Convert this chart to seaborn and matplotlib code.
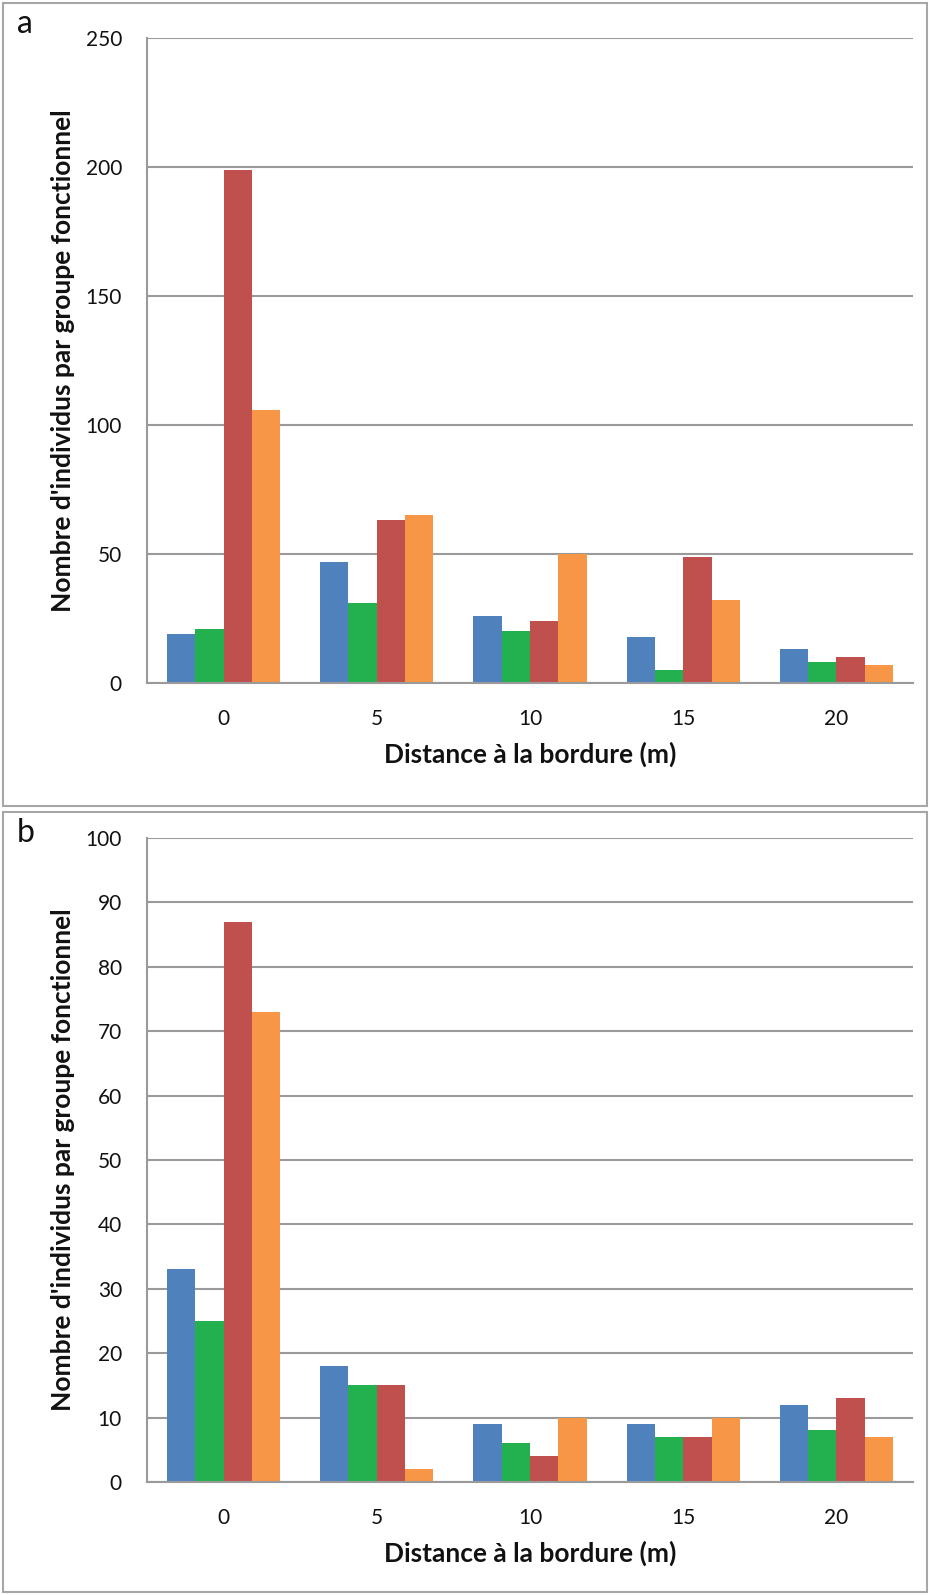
import pandas as pd
import seaborn as sns
import matplotlib.pyplot as plt
from matplotlib.patches import Rectangle

# values
distances = ["0", "5", "10", "15", "20"]
groups = ["g1", "g2", "g3", "g4"]
colors = ["#4F81BD", "#23B04E", "#C0504D", "#F79646"]

a_blue = [19, 47, 26, 18, 13]
a_green = [21, 31, 20, 5, 8]
a_red = [199, 63, 24, 49, 10]
a_orange = [106, 65, 50, 32, 7]

b_blue = [33, 18, 9, 9, 12]
b_green = [25, 15, 6, 7, 8]
b_red = [87, 15, 4, 7, 13]
b_orange = [73, 2, 10, 10, 7]


def to_long(series):
    rows = []
    for g, vals in zip(groups, series):
        for d, v in zip(distances, vals):
            rows.append({"Distance": d, "Groupe": g, "Valeur": v})
    return pd.DataFrame(rows)


df_a = to_long([a_blue, a_green, a_red, a_orange])
df_b = to_long([b_blue, b_green, b_red, b_orange])

sns.set_style("white")
plt.rcParams["font.family"] = ["Lato", "DejaVu Sans"]

W, H = 930, 1595
fig = plt.figure(figsize=(W / 100, H / 100), dpi=100)
grey = "#9a9a9a"


def px(x0, y0, x1, y1):
    # pixel box -> figure fraction [left, bottom, width, height]
    return [x0 / W, 1 - y1 / H, (x1 - x0) / W, (y1 - y0) / H]


def panel(df, box, axbox, ymax, step, letter):
    fig.add_artist(Rectangle((box[0], box[1]), box[2], box[3], transform=fig.transFigure,
                             fill=False, edgecolor="#a6a6a6", linewidth=1.5))
    ax = fig.add_axes(axbox)
    sns.barplot(data=df, x="Distance", y="Valeur", hue="Groupe", palette=colors,
                width=0.74, saturation=1, edgecolor="none", legend=False, ax=ax)
    ax.set_xlim(-0.5, 4.5)
    ax.set_ylim(0, ymax)
    ax.set_yticks(range(0, ymax + 1, step))
    ax.yaxis.grid(True, color=grey, linewidth=1.5)
    ax.set_axisbelow(True)
    for s in ["top", "right"]:
        ax.spines[s].set_visible(False)
    for s in ["left", "bottom"]:
        ax.spines[s].set_color(grey)
        ax.spines[s].set_linewidth(1.5)
    ax.set_xticks([i - 0.5 for i in range(6)], minor=True)
    ax.tick_params(axis="x", which="major", length=0, pad=19, labelsize=15, labelcolor="#111111")
    ax.tick_params(axis="x", which="minor", length=8, width=1.5, color=grey, direction="out")
    ax.tick_params(axis="y", length=8, width=1.5, color=grey, direction="out", pad=10,
                   labelsize=15, labelcolor="#111111")
    ax.set_xlabel("Distance à la bordure (m)", fontsize=19, fontweight="bold", labelpad=9,
                  color="#111111")
    ax.set_ylabel("Nombre d'individus par groupe fonctionnel", fontsize=19,
                  fontweight="bold", labelpad=8, color="#111111")
    fig.text(box[0] + 14 / W, box[1] + box[3] - 6 / H, letter, fontsize=23,
             va="top", ha="left", color="#111111")
    return ax


panel(df_a, (3 / W, 1 - 806 / H, 924 / W, 803 / H), px(147, 38, 913, 683), 250, 50, "a")
panel(df_b, (3 / W, 1 - 1592 / H, 924 / W, 780 / H), px(147, 838, 913, 1482), 100, 10, "b")

fig.savefig("out.png", dpi=100)
